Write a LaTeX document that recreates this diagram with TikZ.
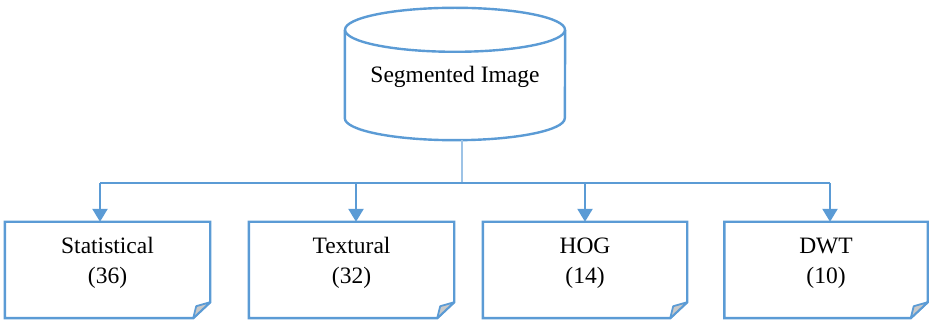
\documentclass[tikz,border=0pt]{standalone}
\usepackage{fontspec}
\setmainfont{Liberation Serif}
\usetikzlibrary{arrows.meta,calc}
\definecolor{edgeblue}{HTML}{5B9BD5}
\definecolor{stemblue}{HTML}{9DC3E6}
\definecolor{foldgray}{HTML}{C9C9C9}
\tikzset{
  outline/.style={draw=edgeblue, line width=2.4pt, line join=miter},
  holder/.style={inner sep=0pt, minimum width=#1, minimum height=96pt},
  label/.style={font=\fontsize{23.5}{30}\selectfont, align=center, inner sep=0pt},
  bus/.style={draw=edgeblue, line width=1.4pt},
  stem/.style={draw=stemblue, line width=1.4pt},
  feed/.style={draw=edgeblue, line width=2.4pt,
    -{Triangle[width=15pt,length=13pt]}},
}
% draws a page with a folded bottom-right corner around a node
\newcommand{\dogear}[1]{%
  \draw[outline] (#1.south west) -- (#1.north west) -- (#1.north east)
    -- ($(#1.south east)+(0,16)$) -- ($(#1.south east)+(-17,0)$) -- cycle;
  \filldraw[draw=edgeblue, fill=foldgray, line width=1.8pt, line join=round]
    ($(#1.south east)+(-17,0)$) -- ($(#1.south east)+(-14,12)$)
    -- ($(#1.south east)+(0,16)$) -- cycle;
}
\begin{document}
\begin{tikzpicture}[x=1pt,y=1pt]
\useasboundingbox (0,0) rectangle (929,321);

% database cylinder
\node[inner sep=0pt, minimum width=220pt, minimum height=132pt] (db) at (455,247) {};
\draw[outline] ($(db.north)+(0,-22)$) ellipse [x radius=110, y radius=22];
\draw[outline] ($(db.north west)+(0,-22)$) -- ($(db.south west)+(0,22)$)
  arc [start angle=180, end angle=360, x radius=110, y radius=22]
  -- ($(db.north east)+(0,-22)$);
\node[label] (dbt) at (455,244) {Segmented Image};

% feature boxes
\node[holder=205pt] (s1) at (107.5,51) {};
\node[holder=205pt] (s2) at (351.5,51) {};
\node[holder=204pt] (s3) at (585,51) {};
\node[holder=203pt] (s4) at (826,51) {};
\dogear{s1}\dogear{s2}\dogear{s3}\dogear{s4}
\node[label] (t1) at ($(s1.center)+(0,7)$) {Statistical\\(36)};
\node[label] (t2) at ($(s2.center)+(0,7)$) {Textural\\(32)};
\node[label] (t3) at ($(s3.center)+(0,7)$) {HOG\\(14)};
\node[label] (t4) at ($(s4.center)+(0,7)$) {DWT\\(10)};

% distribution bus
\coordinate (hub) at (462,138);
\coordinate (j1) at (100,138);
\coordinate (j2) at (356,138);
\coordinate (j3) at (585,138);
\coordinate (j4) at (830,138);
\draw[stem] (hub |- db.south) -- (hub);
\draw[bus] (j1) -- (j4);
\draw[feed] (j1) -- (j1 |- s1.north);
\draw[feed] (j2) -- (j2 |- s2.north);
\draw[feed] (j3) -- (j3 |- s3.north);
\draw[feed] (j4) -- (j4 |- s4.north);
\end{tikzpicture}
\end{document}
